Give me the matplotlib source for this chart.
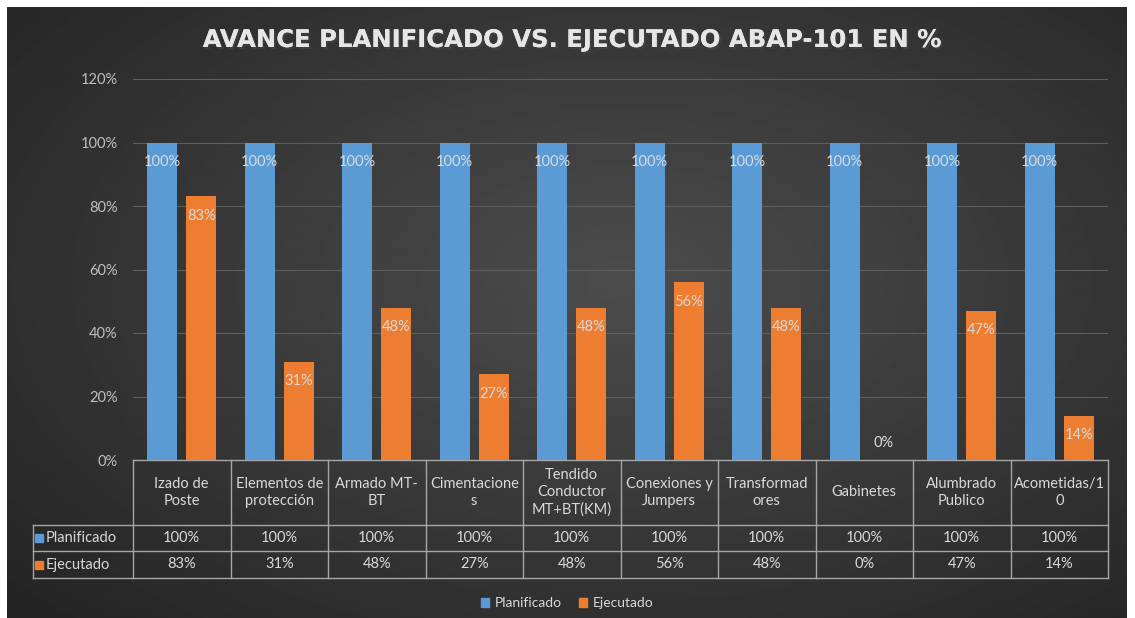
import matplotlib.pyplot as plt
import matplotlib.patheffects as pe
from matplotlib.patches import Rectangle
import numpy as np

# Datos del grafico
categories = ["Izado de\nPoste", "Elementos de\nprotección", "Armado MT-\nBT",
              "Cimentacione\ns", "Tendido\nConductor\nMT+BT(KM)", "Conexiones y\nJumpers",
              "Transformad\nores", "Gabinetes", "Alumbrado\nPublico", "Acometidas/1\n0"]
planificado = [100, 100, 100, 100, 100, 100, 100, 100, 100, 100]
ejecutado = [83, 31, 48, 27, 48, 56, 48, 0, 47, 14]
series_names = ["Planificado", "Ejecutado"]
yticks = [0, 20, 40, 60, 80, 100, 120]
title = "AVANCE PLANIFICADO VS. EJECUTADO ABAP-101 EN %"

BLUE = "#5B9BD5"
ORANGE = "#ED7D31"
TXT = "#d9d9d9"
LINE = "#a6a6a6"

plt.rcParams['font.family'] = ['Lato', 'DejaVu Sans']

W, H = 1135, 618
fig = plt.figure(figsize=(W / 100, H / 100), dpi=100, facecolor="white")

# fondo oscuro con degradado radial
bg = fig.add_axes([7 / W, 0, 1120 / W, 611 / H])
bg.set_axis_off()
yy, xx = np.mgrid[0:1:300j, 0:1:560j]
r = np.sqrt(((xx - 0.55) / 0.8) ** 2 + ((yy - 0.45) / 0.85) ** 2)
shade = 0.30 - 0.17 * np.clip(r, 0, 1)
bg.imshow(shade, cmap="gray", vmin=0, vmax=1, aspect="auto", extent=[0, 1, 0, 1])

# ejes principales
ax = fig.add_axes([133 / W, 1 - 460 / H, 975 / W, 381 / H])
ax.patch.set_alpha(0)
x = np.arange(len(categories))
w = 0.31
off = 0.2
ax.bar(x - off, planificado, w, color=BLUE, zorder=3)
ax.bar(x + off, ejecutado, w, color=ORANGE, zorder=3)
ax.set_xlim(-0.5, len(categories) - 0.5)
ax.set_ylim(0, 120)
ax.set_yticks(yticks)
ax.set_yticklabels([f"{t}%" for t in yticks])
ax.yaxis.grid(True, color="#5e5e5e", lw=0.8)
ax.set_axisbelow(True)
ax.set_xticks([])
for s in ax.spines.values():
    s.set_visible(False)
ax.tick_params(axis="y", length=0, labelcolor="#bfbfbf", labelsize=10.5, pad=11)

# etiquetas de datos
for xi, v in zip(x - off, planificado):
    ax.annotate(f"{v}%", (xi, v), xytext=(0, -14), textcoords="offset points",
                ha="center", va="center", color=TXT, fontsize=10.5, zorder=4)
for xi, v in zip(x + off, ejecutado):
    dy = 12 if v == 0 else -14
    ax.annotate(f"{v}%", (xi, v), xytext=(0, dy), textcoords="offset points",
                ha="center", va="center", color=TXT, fontsize=10.5, zorder=4)

# tabla de datos
px = lambda ypx: (460 - ypx) / 381.0
y_r1, y_r2, y_r3 = px(525), px(551), px(578)
x_lab = (33 - 133) / 975.0
tr = ax.get_xaxis_transform()
kw = dict(color=LINE, lw=1, clip_on=False)
ax.plot([0, 1], [0, 0], transform=ax.transAxes, **kw)
for yv in (y_r1, y_r2, y_r3):
    ax.plot([x_lab, 1], [yv, yv], transform=ax.transAxes, **kw)
for b in np.arange(len(categories) + 1) - 0.5:
    ax.plot([b, b], [0, y_r3], transform=tr, **kw)
ax.plot([x_lab, x_lab], [y_r1, y_r3], transform=ax.transAxes, **kw)

for xi, cat, p, e in zip(x, categories, planificado, ejecutado):
    ax.text(xi, (0 + y_r1) / 2, cat, transform=tr, ha="center", va="center",
            color=TXT, fontsize=10.5, linespacing=1.3)
    ax.text(xi, (y_r1 + y_r2) / 2, f"{p}%", transform=tr, ha="center", va="center",
            color=TXT, fontsize=10.5)
    ax.text(xi, (y_r2 + y_r3) / 2, f"{e}%", transform=tr, ha="center", va="center",
            color=TXT, fontsize=10.5)

for name, col, yc in zip(series_names, [BLUE, ORANGE], [(y_r1 + y_r2) / 2, (y_r2 + y_r3) / 2]):
    ax.plot([x_lab + 0.0065], [yc], marker="s", ms=6, color=col, transform=ax.transAxes,
            clip_on=False)
    ax.text(x_lab + 0.013, yc, name, transform=ax.transAxes, ha="left", va="center",
            color=TXT, fontsize=10.5)

# leyenda
handles = [Rectangle((0, 0), 1, 1, color=c) for c in (BLUE, ORANGE)]
leg = fig.legend(handles, series_names, loc="center", bbox_to_anchor=(567 / W, 1 - 603 / H),
                 ncol=2, frameon=False, fontsize=10, handlelength=0.6, handleheight=0.6,
                 handletextpad=0.4, columnspacing=1.2)
for t in leg.get_texts():
    t.set_color(TXT)

# titulo
fig.text(572 / W, 1 - 40 / H, title, ha="center", va="center", fontsize=17.5,
         fontweight="bold", color="#e6e6e6", family=["DejaVu Sans"],
         path_effects=[pe.withSimplePatchShadow(offset=(1.5, -1.5), alpha=0.6), pe.Normal()])

fig.savefig("out.png", dpi=100, facecolor="white")
